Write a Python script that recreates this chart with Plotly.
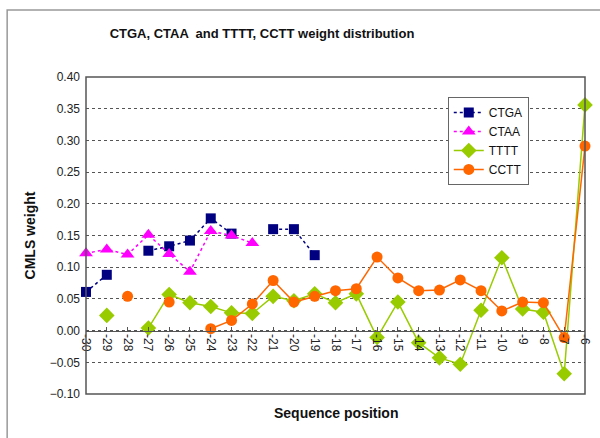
import plotly.graph_objects as go

positions = [str(p) for p in range(-30, -5)]
ctga = [0.061, 0.088, None, 0.126, 0.133, 0.142, 0.177, 0.153, None, 0.160, 0.160, 0.119,
        None, None, None, None, None, None, None, None, None, None, None, None, None]
ctaa = [0.122, 0.128, 0.120, 0.151, 0.121, 0.093, 0.157, 0.150, 0.138, None, None, None,
        None, None, None, None, None, None, None, None, None, None, None, None, None]
tttt = [None, 0.024, None, 0.004, 0.057, 0.044, 0.038, 0.028, 0.027, 0.054, 0.047, 0.058,
        0.044, 0.058, -0.011, 0.045, -0.019, -0.043, -0.053, 0.032, 0.115, 0.034, 0.029, -0.068, 0.356]
cctt = [None, None, 0.054, None, 0.045, None, 0.003, 0.016, 0.042, 0.079, 0.045, 0.054,
        0.063, 0.066, 0.116, 0.083, 0.063, 0.064, 0.080, 0.063, 0.031, 0.045, 0.044, -0.011, 0.291]

FONT = "Liberation Sans, Arial, sans-serif"

fig = go.Figure()
fig.add_trace(go.Scatter(x=positions, y=ctga, name="CTGA", mode="lines+markers",
                         line=dict(color="#000080", width=1.5, dash="dot"),
                         marker=dict(symbol="square", size=10, color="#000080"),
                         cliponaxis=False, connectgaps=False))
fig.add_trace(go.Scatter(x=positions, y=ctaa, name="CTAA", mode="lines+markers",
                         line=dict(color="#FF00FF", width=1.5, dash="dot"),
                         marker=dict(symbol="triangle-up", size=12, color="#FF00FF"),
                         cliponaxis=False, connectgaps=False))
fig.add_trace(go.Scatter(x=positions, y=tttt, name="TTTT", mode="lines+markers",
                         line=dict(color="#99CC00", width=1.5),
                         marker=dict(symbol="diamond", size=12, color="#99CC00"),
                         cliponaxis=False, connectgaps=False))
fig.add_trace(go.Scatter(x=positions, y=cctt, name="CCTT", mode="lines+markers",
                         line=dict(color="#FF6600", width=1.5),
                         marker=dict(symbol="circle", size=11, color="#FF6600"),
                         cliponaxis=False, connectgaps=False))

fig.update_layout(
    width=600, height=438,
    margin=dict(l=86, r=15, t=77, b=44, autoexpand=False),
    paper_bgcolor="white", plot_bgcolor="white",
    font=dict(family=FONT, size=12, color="#222"),
    title=dict(text="<b>CTGA, CTAA  and TTTT, CCTT weight distribution</b>",
               x=262/600, xref="container", xanchor="center",
               y=1-33/438, yref="container", yanchor="middle",
               font=dict(family=FONT, size=13, color="#111")),
    showlegend=True,
    legend=dict(x=0.725, y=0.937, xanchor="left", yanchor="top",
                bgcolor="white", bordercolor="#666", borderwidth=1,
                font=dict(family=FONT, size=12, color="#111"),
                tracegroupgap=0, itemwidth=30),
    xaxis=dict(type="category", categoryorder="array", categoryarray=positions,
               range=[0, 24], anchor="free", position=0.2, automargin=False,
               showline=True, linecolor="#555", linewidth=1,
               ticks="inside", ticklen=4, tickcolor="#555",
               tickangle=90, showgrid=False, zeroline=False,
               tickfont=dict(family=FONT, size=12, color="#222")),
    yaxis=dict(range=[-0.1, 0.4], dtick=0.05, tick0=0, tickformat=".2f", automargin=False,
               showgrid=True, gridcolor="#555", griddash="dot", gridwidth=1,
               zeroline=False, showline=False, ticks="", ticklabelstandoff=5,
               tickfont=dict(family=FONT, size=12, color="#222"),
               title=dict(text="<b>CMLS weight</b>", standoff=10,
                          font=dict(family=FONT, size=14, color="#111"))),
    shapes=[
        dict(type="rect", xref="paper", yref="paper", x0=0, x1=1, y0=0, y1=1,
             line=dict(color="#555", width=1.5), fillcolor="rgba(0,0,0,0)", layer="above"),
        dict(type="rect", xref="paper", yref="paper", x0=-0.158, x1=1.06, y0=-0.2, y1=1.211,
             line=dict(color="#999", width=1.5), fillcolor="rgba(0,0,0,0)"),
    ],
    annotations=[
        dict(text="<b>Sequence position</b>", xref="paper", yref="paper",
             x=0.5, y=-0.06, xanchor="center", yanchor="middle", showarrow=False,
             font=dict(family=FONT, size=14, color="#111")),
    ],
)

fig.write_html("out.html", config={"displayModeBar": False},
               post_script="document.body.style.margin='0';document.body.style.overflow='hidden';")
